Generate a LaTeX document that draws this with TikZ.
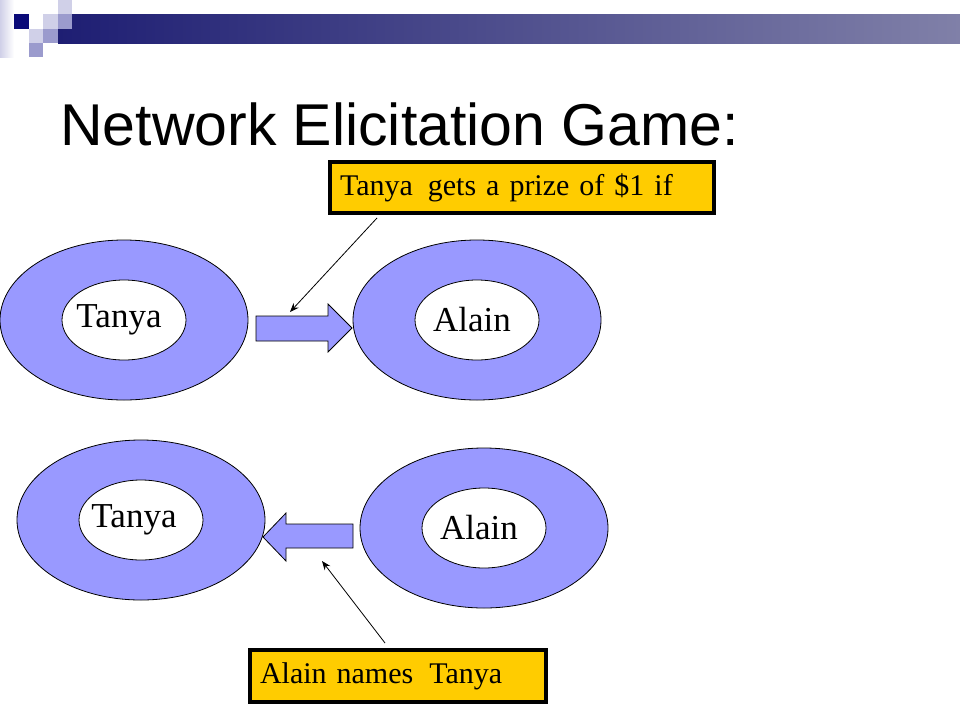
\documentclass[tikz,border=0pt]{standalone}
\usepackage{fontspec}
\setmainfont{Liberation Serif}
\newfontfamily\titlefont{Liberation Sans}
\usetikzlibrary{shapes.geometric,arrows.meta}

\definecolor{ringblue}{RGB}{153,153,255}
\definecolor{boxgold}{RGB}{255,204,0}
\definecolor{navy}{RGB}{10,10,120}
\definecolor{lightlav}{RGB}{208,208,232}
\definecolor{midlav}{RGB}{155,155,205}
\definecolor{barleft}{RGB}{30,30,115}
\definecolor{barright}{RGB}{128,128,168}

\tikzset{
  ring/.style={ellipse, draw=black, line width=0.8pt, fill=ringblue, minimum width=248pt, minimum height=160pt},
  core/.style={ellipse, draw=black, line width=0.8pt, fill=white, minimum width=124pt, minimum height=80pt},
  coretext/.style={font=\fontsize{35}{40}\selectfont, xshift=-5pt},
  fatarrow/.style={draw=black, line width=0.8pt, fill=ringblue},
  prizebox/.style={rectangle, draw=black, line width=4pt, fill=boxgold, anchor=north west, minimum height=51pt, inner xsep=10pt, align=left, font=\fontsize{30}{34}\selectfont},
  pointer/.style={line width=0.8pt, -{Stealth[length=9pt,width=7pt]}}
}

\begin{document}
\begin{tikzpicture}[x=1pt, y=-1pt]
  \useasboundingbox (0,0) rectangle (960,720);

  % Header strip
  \shade[left color=lightlav, right color=white] (0,0) rectangle (14,57);
  \fill[navy] (14,14) rectangle (29,29);
  \shade[left color=barleft, right color=barright] (58,14) rectangle (960,43);
  \fill[lightlav] (43,14) rectangle (58,29);
  \fill[lightlav] (58,0) rectangle (72,14);
  \fill[midlav] (58,14) rectangle (72,29);
  \fill[lightlav] (29,29) rectangle (43,43);
  \fill[midlav] (43,29) rectangle (58,43);
  \fill[midlav] (29,43) rectangle (43,57);

  % Title
  \node[anchor=base west, inner sep=0pt, font=\titlefont\fontsize{59}{66}\selectfont] (title) at (60,145) {Network Elicitation Game:};

  % Top row: Tanya -> Alain
  \node[ring] (tanyaring1) at (124,320) {};
  \node[core, label={[coretext]center:Tanya}] (tanya1) at (tanyaring1) {};
  \node[ring] (alainring1) at (477,320) {};
  \node[core, label={[coretext]center:Alain}] (alain1) at (alainring1) {};
  \draw[fatarrow] (256,316) -- (328,316) -- (328,304) -- (352,328) -- (328,352) -- (328,341) -- (256,341) -- cycle;
  \coordinate (prizetip) at (290,312);

  % Bottom row: Tanya <- Alain
  \node[ring] (tanyaring2) at (141,520) {};
  \node[core, label={[coretext, xshift=-2pt]center:Tanya}] (tanya2) at (tanyaring2) {};
  \node[ring] (alainring2) at (484,528) {};
  \node[core, label={[coretext]center:Alain}] (alain2) at (alainring2) {};
  \draw[fatarrow] (353,524) -- (286,524) -- (286,513) -- (263,537) -- (286,561) -- (286,548) -- (353,548) -- cycle;
  \coordinate (namestip) at (322,561);

  % Callouts
  \node[prizebox, minimum width=384pt, text width=364pt] (prize) at (328,160) {Tanya\hspace{5pt} gets a prize of \$1 if};
  \draw[pointer] ([xshift=49pt,yshift=-3pt]prize.south west) -- (prizetip);
  \node[prizebox, minimum width=296pt, minimum height=52pt, text width=276pt] (names) at (248,648) {Alain names\hspace{6pt} Tanya};
  \draw[pointer] ([xshift=137pt,yshift=5pt]names.north west) -- (namestip);
\end{tikzpicture}
\end{document}
